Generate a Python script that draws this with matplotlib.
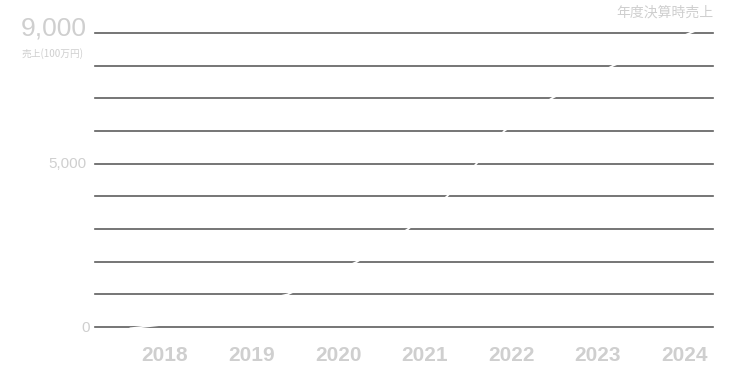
import matplotlib
matplotlib.use('Agg')
import matplotlib.pyplot as plt

plt.rcParams['font.family'] = ['Noto Sans CJK JP', 'DejaVu Sans']
num_font = ['Liberation Sans', 'DejaVu Sans']

# 年度ラベル
years = [2018, 2019, 2020, 2021, 2022, 2023, 2024]
year_labels = ['2018', '2019', '2020', '2021', '2022', '2023', '2024']

# 売上推移 (100万円) 画像から読み取り
sales_x = [2017.6, 2018.0, 2019.42, 2020.22, 2020.81, 2021.26, 2021.6, 2021.92, 2022.47, 2023.18, 2024.07, 2024.3]
sales_y = [-40, 80, 1000, 2000, 3000, 4000, 5000, 6000, 7000, 8000, 9000, 9250]

grid_vals = list(range(0, 10000, 1000))

fig = plt.figure(figsize=(7.32, 3.73), dpi=100)
ax = fig.add_axes([95/732, 46/373, 618/732, 294/373])

ax.set_xlim(2017.19, 2024.335)
ax.set_ylim(0, 9000)

for v in grid_vals:
    ax.axhline(v, color='#5e5e5e', lw=1.2, zorder=1, clip_on=False)

ax.plot(sales_x, sales_y, color='white', lw=1.3, zorder=3, clip_on=False)

for s in ax.spines.values():
    s.set_visible(False)
ax.set_xticks([])
ax.set_yticks([])

# 軸ラベル
lab = '#cfcfcf'
yt = ax.get_yaxis_transform()
ax.text(-0.014, 9130, '9,000', transform=yt, ha='right', va='center',
        fontsize=19, color=lab, family=num_font)
ax.text(-0.019, 8380, '売上(100万円)', transform=yt, ha='right', va='center',
        fontsize=7, color=lab)
ax.text(-0.014, 5000, '5,000', transform=yt, ha='right', va='center',
        fontsize=11, color=lab, family=num_font)
ax.text(-0.008, -20, '0', transform=yt, ha='right', va='center',
        fontsize=11, color=lab, family=num_font)

for x, t in zip(years, year_labels):
    ax.text(x, -870, t, ha='center', va='center', fontsize=15, color=lab,
            fontweight='bold', family=num_font)

fig.text(713/732, 1 - 13/373, '年度決算時売上', ha='right', va='center', fontsize=10, color=lab)

fig.savefig('out.png', dpi=100, facecolor='white')
